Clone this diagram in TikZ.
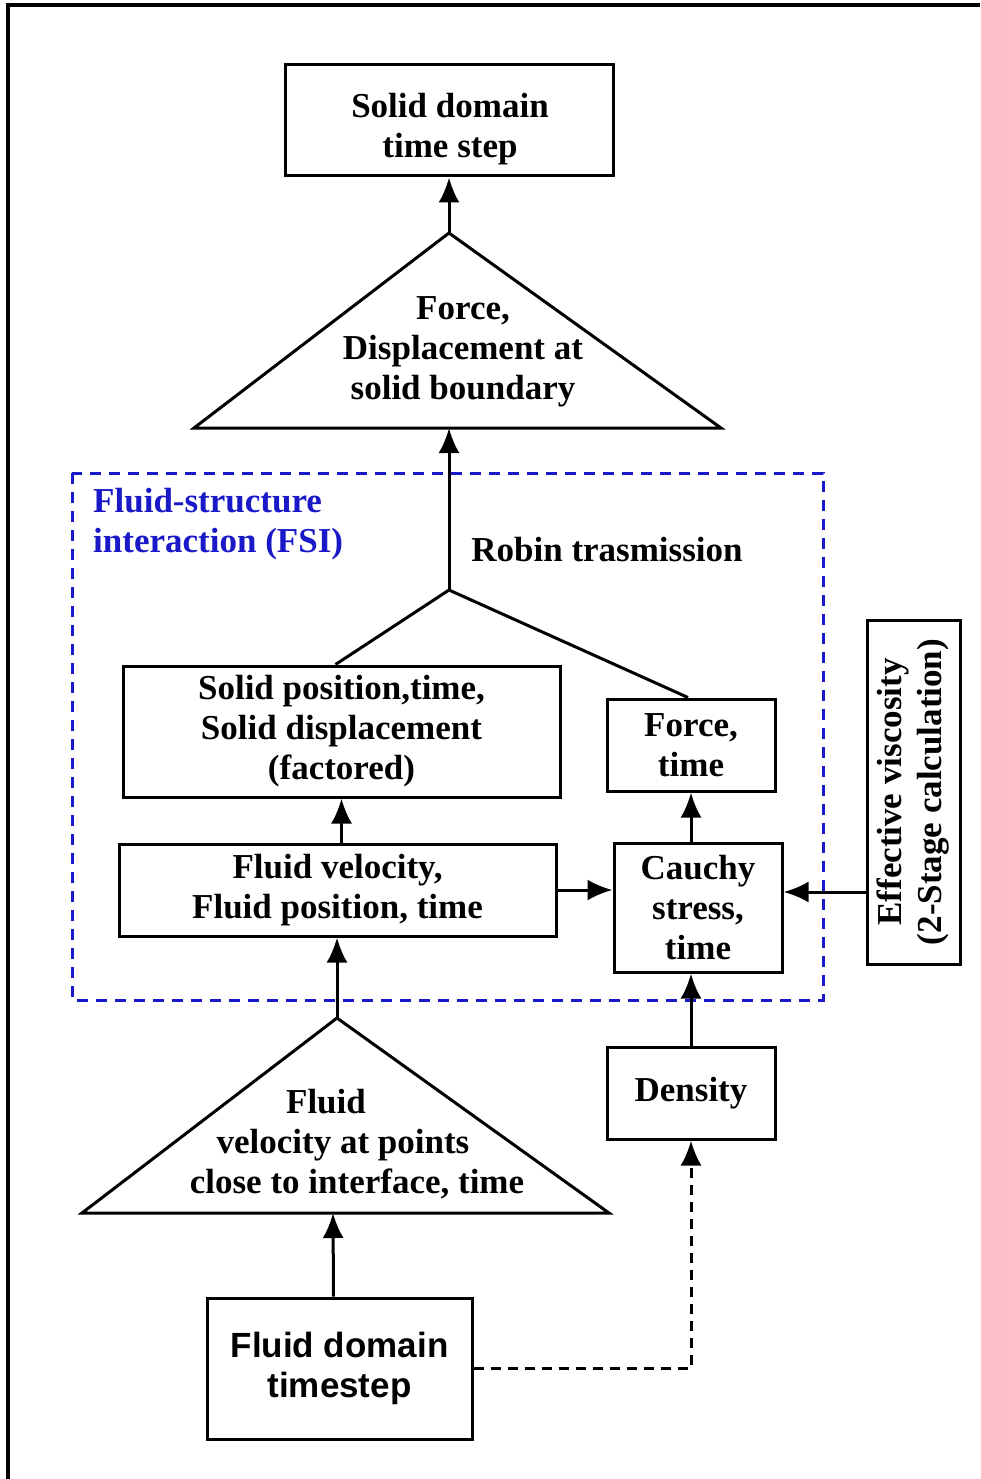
\documentclass[tikz,border=0pt]{standalone}
\usepackage{fontspec}
\setmainfont{Liberation Serif}
\newfontfamily\arialfont{Liberation Sans}
\usetikzlibrary{arrows.meta,calc}
\definecolor{fsiblue}{RGB}{25,25,200}
\tikzset{
  box/.style={draw, line width=3pt, inner sep=0pt, align=center, font=\bfseries\fontsize{35}{40}\selectfont},
  lbl/.style={inner sep=0pt, align=center, font=\bfseries\fontsize{35}{40}\selectfont},
  tri/.style={draw, line width=3pt, line join=miter},
  arr/.style={line width=3pt, -{Latex[length=25pt,width=21pt]}},
  plain/.style={line width=3pt},
  dashline/.style={line width=3pt, dash pattern=on 10pt off 7pt},
  fsibox/.style={draw=fsiblue, line width=3pt, dash pattern=on 11pt off 8pt}
}
\begin{document}
\begin{tikzpicture}[x=1pt,y=-1pt]
\useasboundingbox (0,0) rectangle (980,1479);
% outer frame (left and top visible)
\draw[line width=3.5pt] (8,1479) -- (8,5) -- (980,5);

% FSI dashed region
\draw[fsibox] (72,473) rectangle (823,1000);
\node[lbl, anchor=west, align=left, text=fsiblue] (fsi) at (93,524) {Fluid-structure\\interaction (FSI)};

% top box
\node[draw, line width=3pt, minimum width=328pt, minimum height=111pt] (sd) at (449,120.5) {};
\node[lbl] (sdtext) at (450,129) {Solid domain\\time step};

% top triangle
\coordinate (t1apex) at (449,233);
\coordinate (t1l) at (194,428);
\coordinate (t1r) at (721,428);
\coordinate (t1base) at (449,428);
\draw[tri] (t1apex) -- (t1l) -- (t1r) -- cycle;
\node[lbl] (t1text) at (463,352) {Force,\\Displacement at\\solid boundary};

% junction
\coordinate (j) at (449,590);
\node[lbl] (robin) at (607,550) {Robin trasmission};

% boxes inside FSI
\node[box, minimum width=437pt, minimum height=131pt] (sp) at (341.5,731.5) {Solid position,time,\\Solid displacement\\(factored)};
\node[box, minimum width=168pt, minimum height=92pt] (fb) at (691,745) {Force,\\time};
\node[box, minimum width=437pt, minimum height=92pt] (fv) at (337.5,890) {Fluid velocity,\\Fluid position, time};
\node[box, minimum width=168pt, minimum height=129pt] (cs) at (698,907.5) {Cauchy\\stress,\\time};

% effective viscosity
\node[box, rotate=90, minimum width=344pt, minimum height=93pt] (ev) at (913.5,792) {Effective viscosity\\(2-Stage calculation)};
\coordinate (evy) at (0,892);

% lower triangle
\coordinate (t2apex) at (337,1018);
\coordinate (t2l) at (82,1213);
\coordinate (t2r) at (609,1213);
\coordinate (t2base) at (333,1213);
\draw[tri] (t2apex) -- (t2l) -- (t2r) -- cycle;
\node[lbl] (t2text) at (343,1144) {Fluid\hspace*{34pt}\\velocity at points\hspace*{18pt}\\\hspace*{28pt}close to interface, time};

% density
\node[box, minimum width=168pt, minimum height=92pt] (den) at (691,1093) {Density};

% fluid domain timestep
\node[box, font=\arialfont\bfseries\fontsize{35}{40}\selectfont, minimum width=265pt, minimum height=141pt] (fd) at (339.5,1368.5) {Fluid domain\\timestep};

% connectors
\draw[arr] (t1apex) -- (sd.south);
\draw[arr] (j) -- (t1base);
\draw[plain] ([xshift=-6pt]sp.north) -- (j) -- ([xshift=-3pt]fb.north);
\draw[arr] (fv.north -| sp.south) -- (sp.south);
\draw[arr] (fv.east) -- (cs.west |- fv.east);
\draw[arr] (fb.south |- cs.north) -- (fb.south);
\draw[arr] (ev.north |- evy) -- (cs.east |- evy);
\draw[arr] (t2apex) -- (fv.south -| t2apex);
\draw[arr] (den.north -| fb.south) -- (cs.south -| fb.south);
\draw[arr] ([xshift=-6pt]fd.north) -- (t2base);
\draw[dashline, -{Latex[length=25pt,width=21pt]}] (fd.east) -| (den.south);
\end{tikzpicture}
\end{document}
